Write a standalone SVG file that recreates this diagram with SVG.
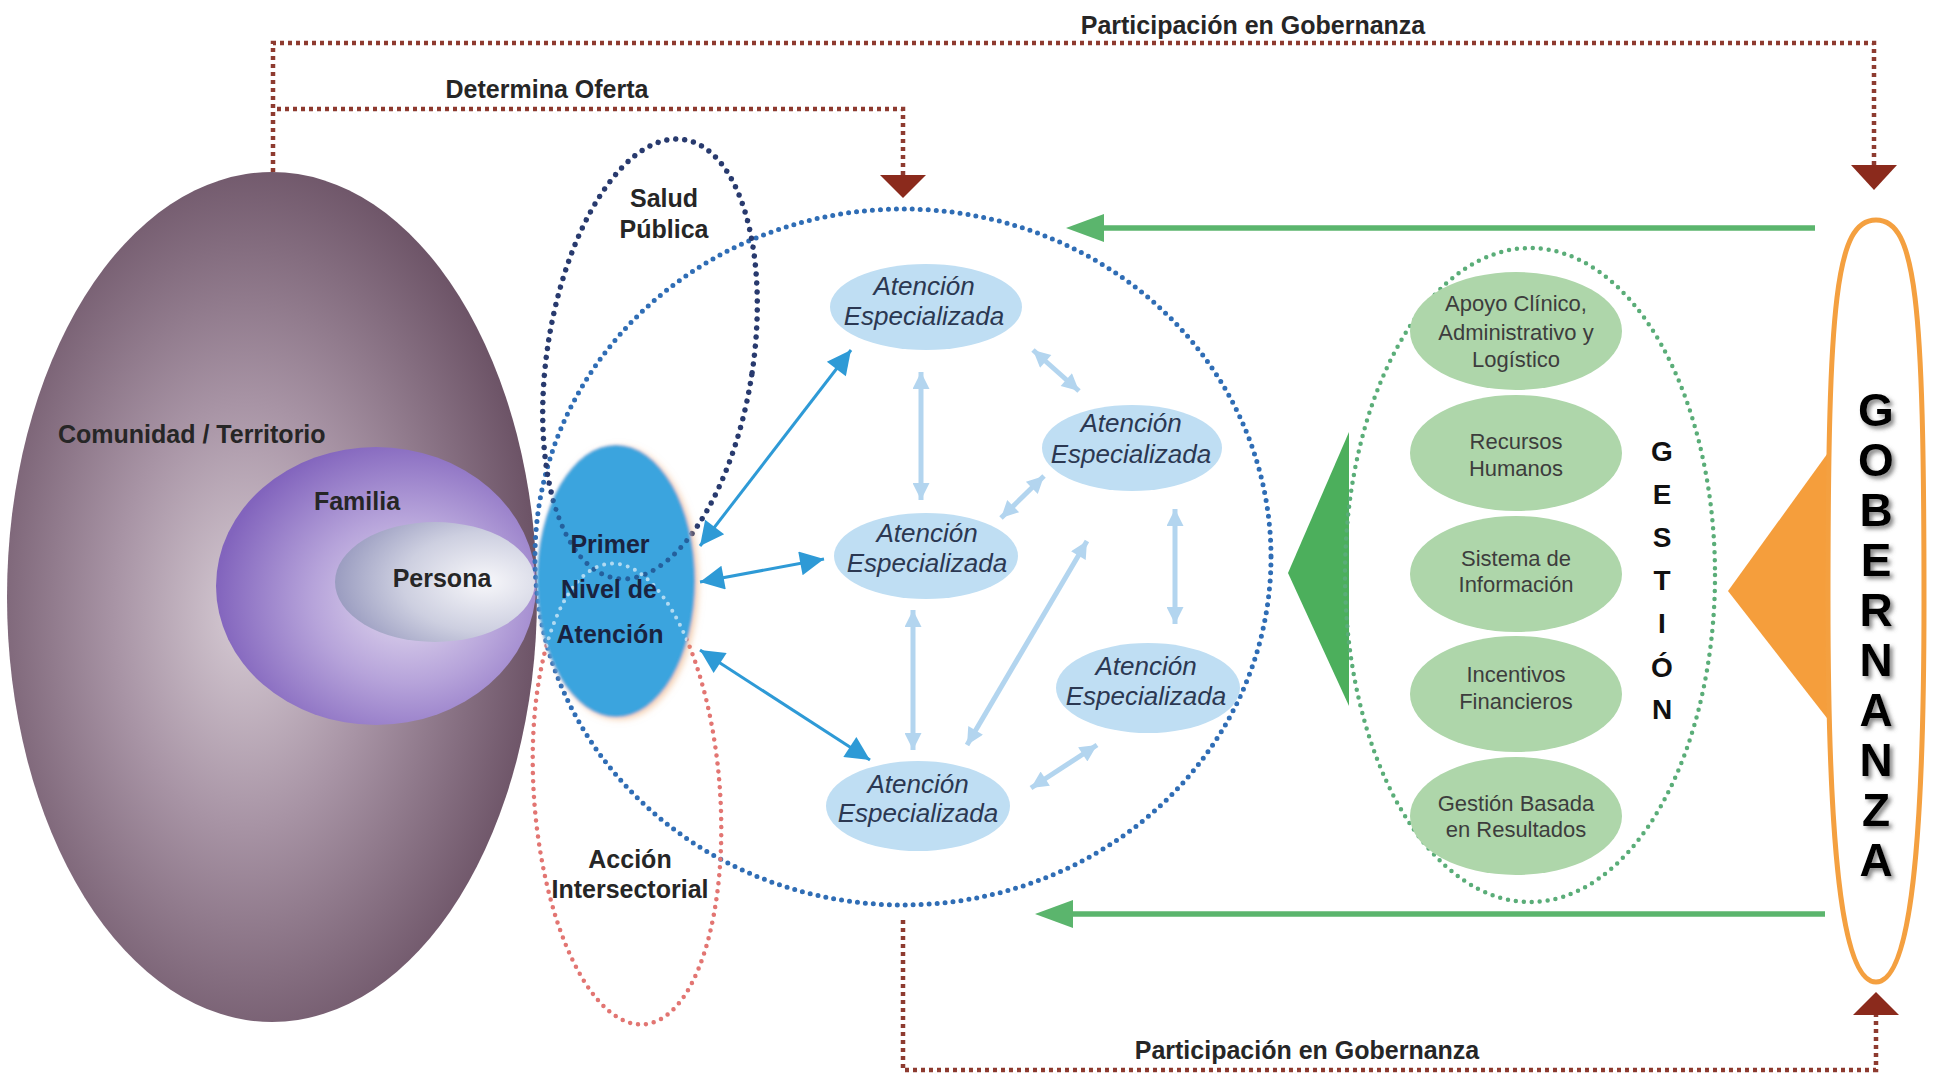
<svg xmlns="http://www.w3.org/2000/svg" width="1944" height="1076" viewBox="0 0 1944 1076">
<style>
.lbl{font-family:"Liberation Sans",Arial,sans-serif;font-weight:bold;font-size:25px;fill:#262626;text-anchor:middle}
.esp{font-family:"Liberation Sans",Arial,sans-serif;font-style:italic;font-size:26px;fill:#2b3852;text-anchor:middle}
.gtx{font-family:"Liberation Sans",Arial,sans-serif;font-size:22px;fill:#3d3d3d;text-anchor:middle}
.ges{font-family:"Liberation Sans",Arial,sans-serif;font-weight:bold;font-size:28px;fill:#111;text-anchor:middle}
.gob{font-family:"Liberation Sans",Arial,sans-serif;font-weight:bold;font-size:46px;fill:#000;text-anchor:middle}
.red{fill:none;stroke:#8e3b30;stroke-width:4.5;stroke-dasharray:4 4}
.navy{fill:none;stroke:#283a6e;stroke-width:5.5;stroke-linecap:round;stroke-dasharray:0 9}
.bluec{fill:none;stroke:#2f6db5;stroke-width:5;stroke-linecap:round;stroke-dasharray:0 8}
.pink{fill:none;stroke:#e27572;stroke-width:4.5;stroke-linecap:round;stroke-dasharray:0 8}
.gdot{fill:none;stroke:#5aad78;stroke-width:4.5;stroke-linecap:round;stroke-dasharray:0 8}
.esE{fill:#bfdef3}
.gE{fill:#aed6aa}
.dark{stroke:#2e9ad6;stroke-width:3;fill:none;marker-start:url(#mDark);marker-end:url(#mDark)}
.light{stroke:#b3d5ef;stroke-width:5;fill:none;marker-start:url(#mLight);marker-end:url(#mLight)}
.garrow{stroke:#5bb56d;stroke-width:5.5;fill:none}
.ahead{fill:#8b2a1c}
</style>
<defs>
<radialGradient id="gCom" cx="0.45" cy="0.52" r="0.55">
<stop offset="0" stop-color="#d6cbd4"/>
<stop offset="0.45" stop-color="#a894a5"/>
<stop offset="1" stop-color="#6d5467"/>
</radialGradient>
<radialGradient id="gFam" cx="0.6" cy="0.55" r="0.6">
<stop offset="0" stop-color="#e4dcf0"/>
<stop offset="0.5" stop-color="#b6a3da"/>
<stop offset="1" stop-color="#8264bd"/>
</radialGradient>
<radialGradient id="gPer" cx="0.75" cy="0.5" r="0.75">
<stop offset="0" stop-color="#f7f7fa"/>
<stop offset="0.55" stop-color="#cdcfe0"/>
<stop offset="1" stop-color="#9a9cc0"/>
</radialGradient>
<filter id="fPN" x="-20%" y="-20%" width="140%" height="140%">
<feGaussianBlur in="SourceGraphic" stdDeviation="1.5" result="b"/>
<feDropShadow in="b" dx="3" dy="2" stdDeviation="3" flood-color="#e9a46a" flood-opacity="0.6"/>
</filter>
<filter id="fSh" x="-30%" y="-30%" width="160%" height="160%">
<feDropShadow dx="3" dy="3" stdDeviation="2" flood-color="#555" flood-opacity="0.7"/>
</filter>
<clipPath id="cPN"><ellipse cx="616" cy="581" rx="79" ry="136"/></clipPath>
<marker id="mDark" viewBox="0 0 10 10" refX="10" refY="5" markerUnits="userSpaceOnUse" markerWidth="34" markerHeight="24" orient="auto-start-reverse">
<path d="M0,0 L10,5 L0,10 z" fill="#2e9ad6"/>
</marker>
<marker id="mLight" viewBox="0 0 10 10" refX="10" refY="5" markerUnits="userSpaceOnUse" markerWidth="28" markerHeight="17" orient="auto-start-reverse">
<path d="M0,0 L10,5 L0,10 z" fill="#b3d5ef"/>
</marker>
</defs>
<rect width="1944" height="1076" fill="#ffffff"/>

<g id="connectors">
<path class="red" d="M273,172 V43 H1874 V166"/>
<polygon class="ahead" points="1851,165 1897,165 1874,190"/>
<path class="red" d="M277,109 H903 V176"/>
<polygon class="ahead" points="880,175 926,175 903,198"/>
<path class="red" d="M903,920 V1070 H1876 V1014"/>
<polygon class="ahead" points="1853,1015 1899,1015 1876,992"/>
<text class="lbl" x="1253" y="34">Participación en Gobernanza</text>
<text class="lbl" x="547" y="98">Determina Oferta</text>
<text class="lbl" x="1307" y="1059">Participación en Gobernanza</text>
<line class="garrow" x1="1815" y1="228" x2="1100" y2="228"/>
<polygon fill="#5bb56d" points="1066,228 1104,214 1104,242"/>
<line class="garrow" x1="1825" y1="914" x2="1070" y2="914"/>
<polygon fill="#5bb56d" points="1035,914 1073,900 1073,928"/>
</g>

<g id="comunidad">
<ellipse cx="272" cy="597" rx="265" ry="425" fill="url(#gCom)"/>
<text class="lbl" x="58" y="443" style="text-anchor:start">Comunidad / Territorio</text>
</g>
<g id="familia">
<ellipse cx="376" cy="586" rx="160" ry="139" fill="url(#gFam)"/>
<text class="lbl" x="357" y="510">Familia</text>
</g>
<g id="persona">
<ellipse cx="435" cy="582" rx="100" ry="60" fill="url(#gPer)"/>
<text class="lbl" x="442" y="587">Persona</text>
</g>

<g id="red-servicios">
<ellipse class="bluec" cx="903" cy="557" rx="368" ry="348"/>
</g>
<g id="salud-publica">
<ellipse class="navy" cx="650" cy="359" rx="103" ry="222" transform="rotate(8.8 650 359)"/>
<text class="lbl" x="664" y="207">Salud</text>
<text class="lbl" x="664" y="238">Pública</text>
</g>
<g id="accion-intersectorial">
<ellipse class="pink" cx="627" cy="794" rx="93" ry="231" transform="rotate(-4.2 627 794)"/>
<text class="lbl" x="630" y="868">Acción</text>
<text class="lbl" x="630" y="898">Intersectorial</text>
</g>

<g id="primer-nivel">
<ellipse cx="616" cy="581" rx="79" ry="136" fill="#3ba4de" filter="url(#fPN)"/>
<g clip-path="url(#cPN)">
<ellipse cx="650" cy="359" rx="103" ry="222" transform="rotate(8.8 650 359)" fill="none" stroke="#1f4f8c" stroke-width="5" stroke-linecap="round" stroke-dasharray="0 9" opacity="0.8"/>
<ellipse cx="627" cy="794" rx="93" ry="231" transform="rotate(-4.2 627 794)" fill="none" stroke="#ffffff" stroke-width="4" stroke-linecap="round" stroke-dasharray="0 8" opacity="0.6"/>
</g>
<text class="lbl" x="610" y="553" style="fill:#1a2340">Primer</text>
<text class="lbl" x="609" y="598" style="fill:#1a2340">Nivel de</text>
<text class="lbl" x="610" y="643" style="fill:#1a2340">Atención</text>
</g>

<g id="atencion-1">
<ellipse class="esE" cx="926" cy="307" rx="96" ry="43"/>
<text class="esp" x="924" y="295">Atención</text>
<text class="esp" x="924" y="325">Especializada</text>
</g>
<g id="atencion-2">
<ellipse class="esE" cx="1132" cy="448" rx="90" ry="43"/>
<text class="esp" x="1131" y="432">Atención</text>
<text class="esp" x="1131" y="463">Especializada</text>
</g>
<g id="atencion-3">
<ellipse class="esE" cx="926" cy="556" rx="92" ry="43"/>
<text class="esp" x="927" y="542">Atención</text>
<text class="esp" x="927" y="572">Especializada</text>
</g>
<g id="atencion-4">
<ellipse class="esE" cx="1148" cy="688" rx="92" ry="45"/>
<text class="esp" x="1146" y="675">Atención</text>
<text class="esp" x="1146" y="705">Especializada</text>
</g>
<g id="atencion-5">
<ellipse class="esE" cx="918" cy="806" rx="92" ry="45"/>
<text class="esp" x="918" y="793">Atención</text>
<text class="esp" x="918" y="822">Especializada</text>
</g>

<g id="network-arrows">
<line class="dark" x1="700" y1="546" x2="851" y2="350"/>
<line class="dark" x1="700" y1="582" x2="824" y2="559"/>
<line class="dark" x1="700" y1="650" x2="870" y2="760"/>
<line class="light" x1="921" y1="372" x2="921" y2="500"/>
<line class="light" x1="1033" y1="350" x2="1079" y2="391"/>
<line class="light" x1="1001" y1="518" x2="1044" y2="476"/>
<line class="light" x1="1175" y1="509" x2="1175" y2="624"/>
<line class="light" x1="913" y1="610" x2="913" y2="750"/>
<line class="light" x1="967" y1="745" x2="1087" y2="541"/>
<line class="light" x1="1031" y1="788" x2="1097" y2="745"/>
</g>

<g id="gestion">
<polygon fill="#4caf5c" points="1288,573 1349,432 1349,706"/>
<ellipse class="gdot" cx="1530" cy="575" rx="185" ry="327"/>
<text class="ges" x="1662" y="461">G</text>
<text class="ges" x="1662" y="504">E</text>
<text class="ges" x="1662" y="547">S</text>
<text class="ges" x="1662" y="590">T</text>
<text class="ges" x="1662" y="633">I</text>
<text class="ges" x="1662" y="677">Ó</text>
<text class="ges" x="1662" y="719">N</text>
</g>
<g id="apoyo">
<ellipse class="gE" cx="1516" cy="331" rx="106" ry="59"/>
<text class="gtx" x="1516" y="311">Apoyo Clínico,</text>
<text class="gtx" x="1516" y="340">Administrativo  y</text>
<text class="gtx" x="1516" y="367">Logístico</text>
</g>
<g id="recursos">
<ellipse class="gE" cx="1516" cy="453" rx="106" ry="58"/>
<text class="gtx" x="1516" y="449">Recursos</text>
<text class="gtx" x="1516" y="476">Humanos</text>
</g>
<g id="sistema">
<ellipse class="gE" cx="1516" cy="574" rx="106" ry="58"/>
<text class="gtx" x="1516" y="566">Sistema de</text>
<text class="gtx" x="1516" y="592">Información</text>
</g>
<g id="incentivos">
<ellipse class="gE" cx="1516" cy="694" rx="106" ry="58"/>
<text class="gtx" x="1516" y="682">Incentivos</text>
<text class="gtx" x="1516" y="709">Financieros</text>
</g>
<g id="resultados">
<ellipse class="gE" cx="1516" cy="816" rx="106" ry="59"/>
<text class="gtx" x="1516" y="811">Gestión Basada</text>
<text class="gtx" x="1516" y="837">en Resultados</text>
</g>

<g id="gobernanza">
<polygon fill="#f59e3c" points="1728,591 1830,450 1830,722"/>
<path d="M1876,220 C1836,220 1828,300 1828,601 C1828,880 1846,982 1876,982 C1906,982 1924,880 1924,601 C1924,300 1916,220 1876,220 Z" fill="none" stroke="#f4a040" stroke-width="5"/>
<g filter="url(#fSh)">
<text class="gob" x="1876" y="426">G</text>
<text class="gob" x="1876" y="476">O</text>
<text class="gob" x="1876" y="526">B</text>
<text class="gob" x="1876" y="576">E</text>
<text class="gob" x="1876" y="626">R</text>
<text class="gob" x="1876" y="676">N</text>
<text class="gob" x="1876" y="726">A</text>
<text class="gob" x="1876" y="776">N</text>
<text class="gob" x="1876" y="826">Z</text>
<text class="gob" x="1876" y="876">A</text>
</g>
</g>
</svg>
